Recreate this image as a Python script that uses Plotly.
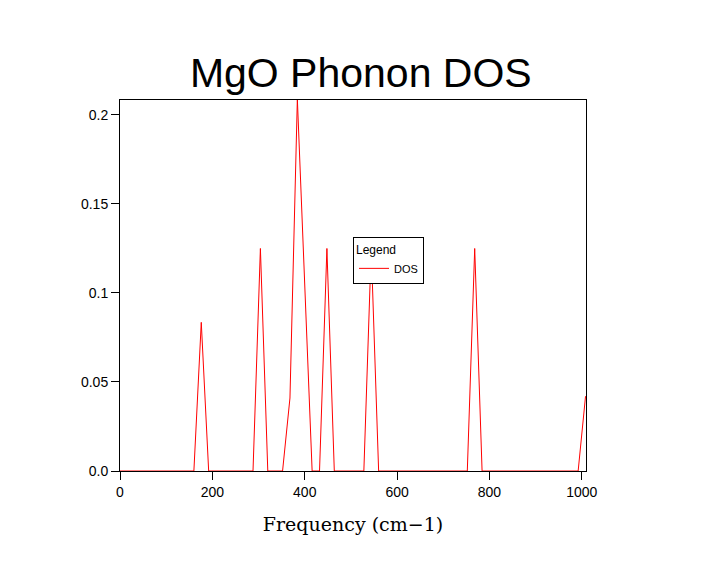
import plotly.graph_objects as go

freq = [0, 160, 176, 192, 288, 304, 320, 352, 368, 384, 416, 432, 448, 464,
        528, 544, 560, 752, 768, 784, 992, 1008]
dos = [0, 0, 0.0835, 0, 0, 0.125, 0, 0, 0.041, 0.209, 0, 0, 0.125, 0,
       0, 0.125, 0, 0, 0.125, 0, 0, 0.042]

yticks = [0, 0.05, 0.1, 0.15, 0.2]
yticklabels = ["0.0", "0.05", "0.1", "0.15", "0.2"]

fig = go.Figure()
fig.add_trace(go.Scatter(x=freq, y=dos, mode='lines', name='DOS',
                         line=dict(color='red', width=1)))

fig.update_layout(
    width=720, height=579,
    paper_bgcolor='white', plot_bgcolor='white',
    margin=dict(l=112, r=142, t=92, b=116),
    title=dict(text='MgO Phonon DOS', x=0.49, xanchor='center', y=0.888, yanchor='middle',
               font=dict(family='Liberation Sans, Arial', size=41, color='black')),
    font=dict(family='Liberation Sans, Arial', size=14, color='black'),
    showlegend=True,
    legend=dict(x=0.5, y=0.63, xanchor='left', yanchor='top',
                bordercolor='black', borderwidth=1, bgcolor='white',
                title=dict(text='Legend', font=dict(size=12)),
                font=dict(size=11), itemwidth=30),
)
fig.update_xaxes(range=[0, 1009], tickvals=[0, 200, 400, 600, 800, 1000],
                 ticks='outside', ticklen=8, tickcolor='black',
                 showline=True, linecolor='black', linewidth=1, mirror=True,
                 showgrid=False, zeroline=False,
                 title=dict(text='Frequency (cm\u22121)', standoff=18,
                            font=dict(family='DejaVu Serif', size=19)))
fig.update_yaxes(range=[0, 0.2084], tickvals=yticks, ticktext=yticklabels,
                 ticks='outside', ticklen=8, tickcolor='black',
                 showline=True, linecolor='black', linewidth=1, mirror=True,
                 showgrid=False, zeroline=False)

fig.write_html("out.html")
